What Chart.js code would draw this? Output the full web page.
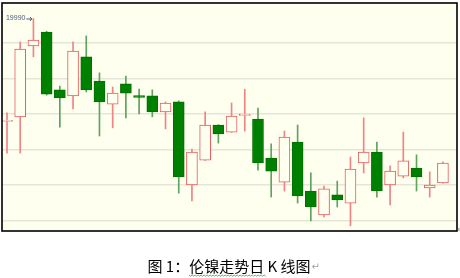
<!DOCTYPE html>
<html>
<head>
<meta charset="utf-8">
<script src="https://cdn.jsdelivr.net/npm/chart.js@4/dist/chart.umd.min.js"></script>
<style>
html,body{margin:0;padding:0;background:#ffffff;}
canvas{display:block;}
</style>
</head>
<body>
<canvas id="c" width="460" height="278"></canvas>
<script>
// Daily candles (LME nickel)
const days = Array.from({length:34}, (_, i) => i);
const openV  = [17090,17220,19220,19610,17980,17810,18910,18230,17580,18150,17820,17810,17360,17640,15300,16000,16990,16790,17260,17160,16060,15380,16510,15130,14460,15020,14790,15920,16230,15300,15550,15780,15220,15360];
const highV  = [17330,19330,19990,19630,18090,19330,19500,18460,18060,18370,18000,17980,17640,17670,16310,17360,17000,17610,18000,17470,16460,16820,16990,15640,15270,15410,16090,17190,16510,15840,16790,16150,15670,15950];
const lowV   = [16200,16200,18910,17830,16930,17440,17920,16680,16910,17190,17300,17220,16880,15070,14850,15990,16480,16780,16820,15720,14960,15130,14790,14290,14400,14680,14150,15640,14960,14740,15500,15130,14960,15350];
const closeV = [17120,19130,19380,17860,17750,19070,17980,17640,17890,17890,17770,17360,17610,15530,16230,16990,16740,17240,17290,15920,15690,16650,14990,14680,15190,14880,15750,16230,15130,15690,15980,15530,15300,15920];
const gridValues = [14300,15300,16300,17300,18300,19300];
const peakLabel = "19990";
const caption = "图 1：伦镍走势日 K 线图";

const UP_FILL = '#fffff0', UP_LINE = '#e65c5c', UP_WICK = '#ee8484';
const DN_FILL = '#008000', DN_LINE = '#007000', DN_WICK = '#5ea35e';
const isUp = days.map(i => closeV[i] >= openV[i]);

const bodies = days.map(i => ({x: i, y: [openV[i], closeV[i]]}));
const wicks  = days.map(i => ({x: i, y: [lowV[i], highV[i]]}));

const framePlugin = {
  id: 'frame',
  beforeDraw(chart) {
    const {ctx, chartArea: a} = chart;
    ctx.save();
    ctx.fillStyle = '#fffff0';
    ctx.fillRect(a.left, a.top, a.right - a.left, a.bottom - a.top);
    ctx.restore();
  },
  afterDraw(chart) {
    const {ctx, chartArea: a, scales} = chart;
    ctx.save();
    ctx.strokeStyle = '#000000';
    ctx.lineWidth = 1.6;
    ctx.strokeRect(a.left, a.top, a.right - a.left, a.bottom - a.top);
    // peak label
    const px = scales.x.getPixelForValue(2);
    const py = scales.y.getPixelForValue(19990);
    ctx.fillStyle = '#4d5b7a';
    ctx.font = '7px "Liberation Sans"';
    ctx.textBaseline = 'middle';
    ctx.textAlign = 'right';
    ctx.fillText(peakLabel, px - 8, py);
    ctx.strokeStyle = '#4d5b7a';
    ctx.lineWidth = 1;
    ctx.beginPath();
    ctx.moveTo(px - 7, py + 0.5); ctx.lineTo(px - 1.5, py + 0.5);
    ctx.moveTo(px - 3.5, py - 1.5); ctx.lineTo(px - 1.5, py + 0.5); ctx.lineTo(px - 3.5, py + 2.5);
    ctx.stroke();
    // paragraph mark at corner
    ctx.fillStyle = '#9a9a9a';
    ctx.font = '8px "DejaVu Sans"';
    ctx.textAlign = 'left';
    ctx.fillText('\u21B5', a.right + 0.5, a.bottom - 1);
    // caption
    ctx.font = '15px "Noto Sans CJK SC"';
    ctx.fillStyle = '#000000';
    ctx.textAlign = 'left';
    ctx.textBaseline = 'middle';
    const w = ctx.measureText(caption).width;
    const left = 229 - w / 2;
    const cy = 266;
    ctx.fillText(caption, left, cy);
    ctx.fillStyle = '#a0a0a0';
    ctx.font = '10px "DejaVu Sans"';
    ctx.fillText('\u21B5', left + w + 1, cy + 1);
    // wavy underline under 伦镍走势日
    ctx.font = '15px "Noto Sans CJK SC"';
    const s0 = ctx.measureText('图 1：').width;
    const s1 = ctx.measureText('图 1：伦镍走势日').width;
    ctx.strokeStyle = '#3aa04a';
    ctx.lineWidth = 0.8;
    ctx.beginPath();
    let x = left + s0, k = 0;
    ctx.moveTo(x, cy + 9);
    while (x < left + s1) { x += 1.5; k++; ctx.lineTo(x, cy + 9 + (k % 2 ? 1.2 : 0)); }
    ctx.stroke();
    ctx.restore();
  }
};

new Chart(document.getElementById('c'), {
  type: 'bar',
  data: {
    datasets: [
      {
        label: 'body',
        data: bodies,
        order: 0,
        grouped: false,
        barThickness: 11,
        borderWidth: 1,
        borderSkipped: false,
        backgroundColor: days.map(i => isUp[i] ? UP_FILL : DN_FILL),
        borderColor: days.map(i => isUp[i] ? UP_LINE : DN_LINE)
      },
      {
        label: 'wick',
        data: wicks,
        order: 1,
        grouped: false,
        barThickness: 1,
        borderWidth: 0,
        backgroundColor: days.map(i => isUp[i] ? UP_WICK : DN_WICK)
      }
    ]
  },
  options: {
    responsive: false,
    animation: false,
    layout: {padding: {left: 2, right: 3, top: 3, bottom: 47}},
    plugins: {legend: {display: false}, tooltip: {enabled: false}},
    scales: {
      x: {type: 'linear', display: false, offset: false, min: -0.3785, max: 34.065},
      y: {
        type: 'linear',
        min: 14004, max: 20427,
        display: true,
        afterBuildTicks: s => { s.ticks = gridValues.map(v => ({value: v})); },
        ticks: {display: false},
        border: {display: false},
        grid: {drawTicks: false, color: '#e6e6d8', lineWidth: 1.5}
      }
    }
  },
  plugins: [framePlugin]
});
</script>
</body>
</html>
